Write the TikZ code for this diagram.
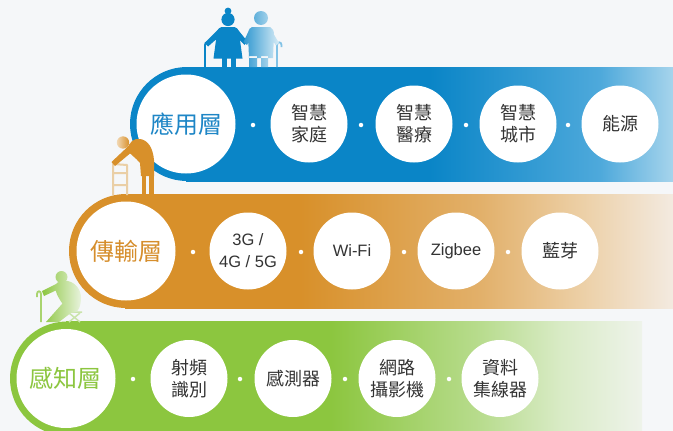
\documentclass[tikz,border=0pt]{standalone}
\usepackage{fontspec}
\newfontfamily\cjk{Noto Sans CJK TC}
\newfontfamily\lat{Liberation Sans}

\definecolor{bg}{HTML}{F5F7F9}
\definecolor{textgray}{HTML}{333333}
% application layer
\definecolor{appblue}{HTML}{0A85C7}
\definecolor{appmid}{HTML}{4EA9DB}
\definecolor{append}{HTML}{A6D4EC}
\definecolor{applabel}{HTML}{1E86C6}
% transport layer
\definecolor{netorange}{HTML}{D8902A}
\definecolor{netmid}{HTML}{E2B06A}
\definecolor{netlight}{HTML}{ECCFA5}
\definecolor{netend}{HTML}{F3EAE0}
\definecolor{netlabel}{HTML}{D68E2C}
\definecolor{walkertan}{HTML}{EACFA6}
% sensing layer
\definecolor{sensegreen}{HTML}{8CC63F}
\definecolor{sensemid}{HTML}{B8DC8E}
\definecolor{senselight}{HTML}{D9EBC6}
\definecolor{senseend}{HTML}{EEF3EA}
\definecolor{senselabel}{HTML}{8CC63F}

% band fills: solid on the left, fading out towards the right end
\pgfdeclarehorizontalshading{blueband}{100bp}{color(0bp)=(appblue); color(50bp)=(appblue); color(67.5bp)=(appmid); color(75bp)=(append); color(100bp)=(append)}
\pgfdeclarehorizontalshading{orangeband}{100bp}{color(0bp)=(netorange); color(41bp)=(netorange); color(57.4bp)=(netmid); color(66.5bp)=(netlight); color(75bp)=(netend); color(100bp)=(netend)}
\pgfdeclarehorizontalshading{greenband}{100bp}{color(0bp)=(sensegreen); color(48bp)=(sensegreen); color(61bp)=(sensemid); color(68bp)=(senselight); color(75bp)=(senseend); color(100bp)=(senseend)}

\begin{document}
\begin{tikzpicture}[x=1pt, y=-1pt,
  lab/.style={circle, fill=white, minimum size=99pt, inner sep=0pt,
    font=\cjk\fontsize{24}{28}\selectfont},
  item/.style={circle, fill=white, minimum size=77pt, inner sep=0pt,
    align=center, text=textgray, font=\cjk\fontsize{18}{22}\selectfont},
  latitem/.style={item, font=\lat\fontsize{16.5}{22}\selectfont},
  sepdot/.style={circle, fill=white, minimum size=4.5pt, inner sep=0pt},
]
\useasboundingbox (0,0) rectangle (673,431);
\fill[bg] (0,0) rectangle (673,431);

% ---------- bands ----------
% application layer
\fill[appblue] (187,124) circle (57);
\shade[shading=blueband] (186,67) rectangle (673,181);
% transport layer
\fill[netorange] (126,251) circle (57);
\shade[shading=orangeband] (125,194) rectangle (673,308);
% sensing layer
\fill[sensegreen] (67,378.5) circle (57);
\shade[shading=greenband] (66,321.5) rectangle (642,435.5);

% ---------- application layer nodes ----------
\node[lab, text=applabel] (app) at (186,124) {應用層};
\node[item] (home) at (309,124) {智慧\\家庭};
\node[item] (care) at (414,124) {智慧\\醫療};
\node[item] (city) at (518,124) {智慧\\城市};
\node[item] (energy) at (620,124) {能源};
\node[sepdot] (a1) at (253,125) {};
\node[sepdot] (a2) at (361,125) {};
\node[sepdot] (a3) at (466,125) {};
\node[sepdot] (a4) at (568,125) {};

% ---------- transport layer nodes ----------
\node[lab, text=netlabel] (net) at (126,251) {傳輸層};
\node[latitem] (cell) at (248,251) {3G /\\4G / 5G};
\node[latitem] (wifi) at (352,251) {Wi-Fi};
\node[latitem] (zigbee) at (456,251) {Zigbee};
\node[item] (bt) at (560,251) {藍芽};
\node[sepdot] (n1) at (193,252) {};
\node[sepdot] (n2) at (301,252) {};
\node[sepdot] (n3) at (404,252) {};
\node[sepdot] (n4) at (508,252) {};

% ---------- sensing layer nodes ----------
\node[lab, text=senselabel] (sense) at (66,378.5) {感知層};
\node[item] (rfid) at (189,378.5) {射頻\\識別};
\node[item] (sensor) at (293,378.5) {感測器};
\node[item] (cam) at (397,378.5) {網路\\攝影機};
\node[item] (hub) at (500,378.5) {資料\\集線器};
\node[sepdot] (s1) at (133,379) {};
\node[sepdot] (s2) at (240,379) {};
\node[sepdot] (s3) at (345,379) {};
\node[sepdot] (s4) at (449,379) {};

% ---------- elderly couple on the application band ----------
% woman with cane
\fill[appblue] (228,11) circle (3.4);
\fill[appblue] (228,19.5) circle (6.6);
\fill[appblue] (221.5,27) -- (234.5,27) .. controls (238.5,28) and (239.5,32) .. (240,40)
  -- (242.5,58.5) -- (213.5,58.5) -- (216,40) .. controls (216.5,32) and (217.5,28) .. (221.5,27) -- cycle;
\fill[appblue] (219.5,28) -- (223.5,33) -- (208,46.5) -- (204.5,43) -- cycle;
\fill[appblue] (236.5,28) -- (247.5,41.5) -- (244.5,45) -- (232.5,33) -- cycle;
\fill[appblue] (221.5,57) rectangle (226.5,67);
\fill[appblue] (230.5,57) rectangle (235.5,67);
\draw[appblue, line width=1.8pt] (205,67) -- (205,45) .. controls (205,41.5) and (209,41.5) .. (209,45);
% man with cane
\draw[color=appmid!70!white, line width=1.8pt] (277,67) -- (277,45) .. controls (277,41.5) and (281.5,41.5) .. (281.5,45) -- (281.5,47);
\shade[left color=appblue!85!white, right color=append!45!white]
  (261,18) circle (7)
  (252,27) -- (270,27) .. controls (273,28) and (274,31) .. (274,35) -- (273,58)
    -- (249,58) -- (248,35) .. controls (248,31) and (249,28) .. (252,27) -- cycle
  (249,56) rectangle (257,67)
  (261,56) rectangle (268,67)
  (250,28) -- (254,32.5) -- (247,45) -- (243.5,42) -- cycle
  (270,28) -- (279,43) -- (276,45.5) -- (268,34) -- cycle;

% ---------- person with a walker on the transport band ----------
\draw[walkertan, line width=2pt, line join=round]
  (113,195) -- (113,164) -- (127,165) -- (127,195)
  (113,173) -- (127,173)
  (113,185) -- (127,185);
\shade[left color=netorange!35!white, right color=netorange] (123,142.5) circle (6.2);
\fill[netorange]
  (127,150) .. controls (129,142) and (134,138) .. (140,139)
    .. controls (148,140) and (153,148) .. (154,160) -- (154,176) -- (141,176)
    -- (140,163) .. controls (136,158) and (131,155) .. (127,150) -- cycle;
\fill[netorange] (141.5,174) rectangle (146,195);
\fill[netorange] (148.5,174) rectangle (153.5,195);
\fill[netorange] (128.5,146) -- (133,151) -- (115,166) -- (111.5,162) -- cycle;

% ---------- seated person with cane on the sensing band ----------
\draw[sensegreen!75!white, line width=1.8pt] (41,322) -- (41,294) .. controls (41,290.5) and (37,290.5) .. (37,294) -- (37,297);
\draw[senselight!80!sensegreen, line width=1.5pt]
  (67,312) -- (82,312)
  (69,313) -- (80,322)
  (80,313) -- (69,322);
\shade[left color=sensegreen, right color=senselight!60!white]
  (61.5,277) circle (6)
  (55,285) .. controls (58,281) and (63,280) .. (68,281)
    .. controls (76,283) and (81,290) .. (81,298) .. controls (81,305) and (79,310) .. (76,312)
    -- (66,314) -- (62,303) .. controls (58,297) and (55,292) .. (55,285) -- cycle
  (62,304) -- (76,309) -- (59,322) -- (46,322) -- cycle
  (56,284) -- (59,289) -- (44,296) -- (42,291) -- cycle;
\end{tikzpicture}
\end{document}
